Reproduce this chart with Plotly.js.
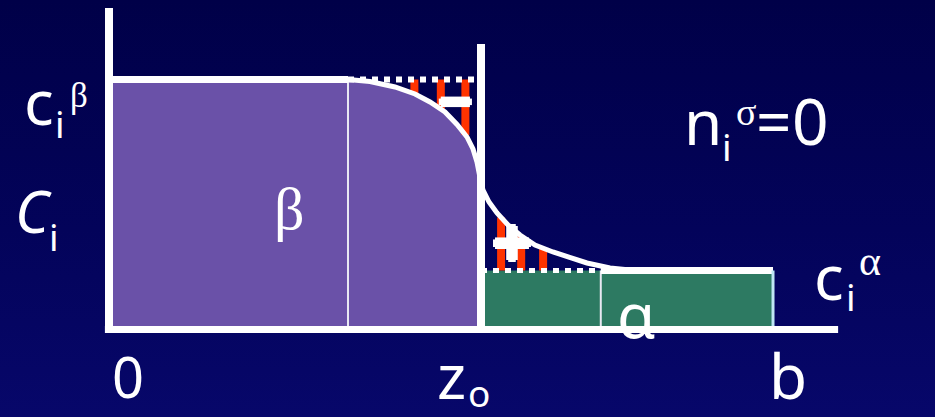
<!DOCTYPE html>
<html>
<head>
<meta charset="utf-8">
<script src="https://cdn.plot.ly/plotly-3.0.1.min.js"></script>
<style>
  html, body { margin: 0; padding: 0; }
  body { width: 935px; height: 417px; background: linear-gradient(to bottom, #000048 0%, #03035a 55%, #07076a 100%); }
  #chart { width: 935px; height: 417px; }
</style>
</head>
<body>
<div id="chart"></div>
<script>
// Gibbs dividing surface: concentration profile c_i(z) across a beta | alpha interface
const Z_DIVIDING = 1.0;     // z0, position of the dividing surface
const Z_BOUNDARY = 1.785;   // b, outer edge of the alpha phase
const Z_BETA_BULK_END = 0.6425;  // where the beta bulk ends
const Z_ALPHA_BULK_START = 1.322; // where the alpha bulk starts
const C_BETA = 1.0;
const C_ALPHA = 0.236;

// real profile through the interfacial region
const profileZ = [0.6425, 0.7016, 0.7688, 0.8226, 0.8629, 0.9032, 0.9355, 0.9624, 0.9785, 0.9892, 0.9960, 0.9987,
                  1.0000, 1.0054, 1.0215, 1.0430, 1.0726, 1.1048, 1.1452, 1.1935, 1.2392, 1.2849, 1.3468, 1.4140];
const profileC = [1.000, 0.992, 0.970, 0.942, 0.910, 0.870, 0.820, 0.770, 0.722, 0.670, 0.618, 0.590,
                  0.590, 0.558, 0.510, 0.466, 0.418, 0.378, 0.338, 0.310, 0.286, 0.266, 0.246, 0.236];

// hatching marking the excess (+) and deficit (-) areas
const deficitZ = [0.821, 0.892, 0.958];
const excessZ = [1.054, 1.108, 1.167];

// frame extents
const AXIS_TOP = 1.286;
const AXIS_RIGHT = 1.96;
const DIVIDER_TOP = 1.142;

const W = 935, H = 417;
const WHITE = '#ffffff';
const PURPLE = '#6a51a8';
const GREEN = '#2d7a62';
const RED = '#ff3300';

function profileAt(z) {
  for (let k = 0; k < profileZ.length - 1; k++) {
    const a = profileZ[k], b = profileZ[k + 1];
    if (z >= a && z <= b && b > a) {
      const t = (z - a) / (b - a);
      return profileC[k] + t * (profileC[k + 1] - profileC[k]);
    }
  }
  return profileC[profileC.length - 1];
}

const upperIdx = profileZ.map((z, k) => k).filter(k => profileZ[k] < Z_DIVIDING);
const upperZ = upperIdx.map(k => profileZ[k]);
const upperC = upperIdx.map(k => profileC[k]);

function line(x, y, color, width, dash) {
  return { x, y, mode: 'lines', type: 'scatter', hoverinfo: 'skip',
           line: { color, width, dash: dash || 'solid', shape: 'linear' } };
}

const traces = [];

// beta phase area
traces.push({
  x: [0, 0].concat(upperZ, [Z_DIVIDING, Z_DIVIDING]),
  y: [0, C_BETA].concat(upperC, [upperC[upperC.length - 1], 0]),
  type: 'scatter', mode: 'none', fill: 'toself', fillcolor: PURPLE, hoverinfo: 'skip'
});
// alpha phase area
traces.push({
  x: [Z_DIVIDING, Z_DIVIDING, Z_BOUNDARY, Z_BOUNDARY],
  y: [0, C_ALPHA, C_ALPHA, 0],
  type: 'scatter', mode: 'none', fill: 'toself', fillcolor: GREEN, hoverinfo: 'skip'
});

// hatch bars
deficitZ.forEach(z => traces.push(line([z, z], [C_BETA, profileAt(z)], RED, 8)));
excessZ.forEach(z => traces.push(line([z, z], [profileAt(z), C_ALPHA], RED, 8)));

// thin bulk boundaries
traces.push(line([Z_BETA_BULK_END, Z_BETA_BULK_END], [0, C_BETA], '#e8e8f2', 2));
traces.push(line([Z_ALPHA_BULK_START, Z_ALPHA_BULK_START], [0, C_ALPHA], '#e8e8f2', 2));

// step profile of the reference system
traces.push(line([Z_BETA_BULK_END, Z_DIVIDING], [C_BETA, C_BETA], WHITE, 6, '6px,6px'));
traces.push(line([Z_DIVIDING, Z_ALPHA_BULK_START], [C_ALPHA, C_ALPHA], WHITE, 5, '6px,6px'));
traces.push(line([0, Z_BETA_BULK_END], [C_BETA, C_BETA], WHITE, 7));
traces.push(line([Z_ALPHA_BULK_START, Z_BOUNDARY], [C_ALPHA, C_ALPHA], WHITE, 7));
traces.push(line([Z_BOUNDARY, Z_BOUNDARY], [0, C_ALPHA], '#bfe6f4', 3));

// real profile
traces.push(line(profileZ, profileC, WHITE, 5));

// frame: concentration axis, position axis and the dividing surface
traces.push(line([0, 0], [-0.014, AXIS_TOP], WHITE, 8));
traces.push(line([-0.011, AXIS_RIGHT], [0, 0], WHITE, 7));
traces.push(line([Z_DIVIDING, Z_DIVIDING], [0, DIVIDER_TOP], WHITE, 8));

// text placed in page pixels
const SANS = 'Noto Sans';
const SERIF = 'Liberation Serif';
function label(text, x, y, size, family, extra) {
  const font = Object.assign({ family: family || SANS, size, color: WHITE }, (extra && extra.font) || {});
  return {
    text, x: x / W, y: 1 - y / H, xref: 'paper', yref: 'paper',
    xanchor: 'center', yanchor: 'middle', showarrow: false, font
  };
}
const THICK = { font: { weight: 'bold', shadow: '2px 0 0 #fff, -2px 0 0 #fff, 0 2px 0 #fff, 0 -2px 0 #fff' } };

const annotations = [
  label('c', 39, 101, 62),
  label('i', 60, 124, 37),
  label('β', 79, 95, 35, SERIF),
  label('<i>C</i>', 33, 211, 58),
  label('i', 54, 236, 37),
  label('β', 289, 209, 60, SERIF),
  label('n', 703, 121, 62),
  label('i', 727, 146, 37),
  label('σ', 746, 112, 38, SERIF),
  label('=', 773, 121, 62),
  label('0', 810, 120, 64),
  label('c', 829, 276, 62),
  label('i', 851, 296, 37),
  label('α', 870, 261, 42, SERIF),
  label('α', 636, 314, 62),
  label('0', 128, 376, 56),
  label('z', 451, 375, 62),
  label('o', 479, 392, 37),
  label('b', 788, 375, 62),
  label('−', 455, 100, 60, SANS, THICK),
  label('+', 512, 241, 70, SANS, THICK)
];

const px0 = 109, pxPerZ = 372, py0 = 329.5, pyPerC = 250;
const layout = {
  width: W, height: H,
  margin: { l: 0, r: 0, t: 0, b: 0 },
  paper_bgcolor: 'rgba(0,0,0,0)',
  plot_bgcolor: 'rgba(0,0,0,0)',
  showlegend: false,
  xaxis: { range: [-px0 / pxPerZ, (W - px0) / pxPerZ], visible: false, fixedrange: true },
  yaxis: { range: [-(H - py0) / pyPerC, py0 / pyPerC], visible: false, fixedrange: true },
  annotations
};

Plotly.newPlot('chart', traces, layout, { staticPlot: true, displayModeBar: false });
</script>
</body>
</html>
